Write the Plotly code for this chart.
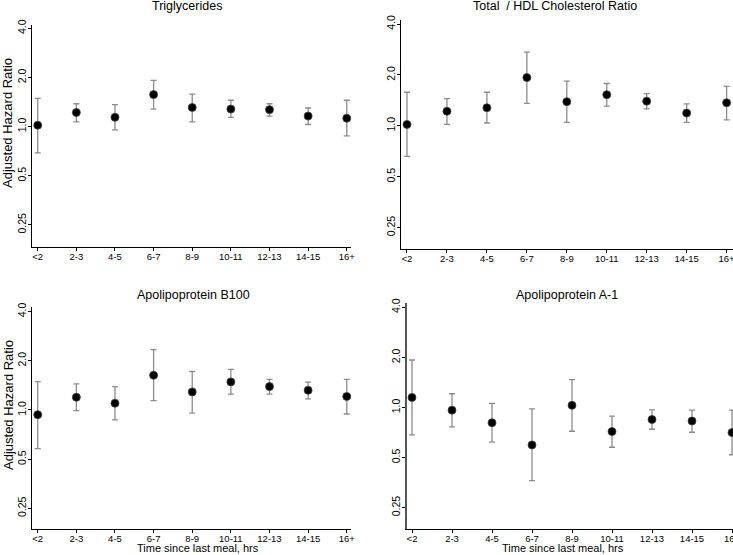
import math
import plotly.graph_objects as go

categories = ["<2", "2-3", "4-5", "6-7", "8-9", "10-11", "12-13", "14-15", "16+"]

panel_titles = ["Triglycerides", "Total  / HDL Cholesterol Ratio",
                "Apolipoprotein B100", "Apolipoprotein A-1"]

trig_hr = [1.02, 1.22, 1.14, 1.57, 1.31, 1.28, 1.27, 1.16, 1.125]
trig_hi = [1.49, 1.38, 1.365, 1.92, 1.58, 1.45, 1.38, 1.30, 1.45]
trig_lo = [0.69, 1.07, 0.954, 1.28, 1.07, 1.14, 1.16, 1.03, 0.877]

tchdl_hr = [1.02, 1.22, 1.28, 1.93, 1.39, 1.53, 1.40, 1.19, 1.37]
tchdl_hi = [1.58, 1.45, 1.58, 2.73, 1.84, 1.78, 1.55, 1.35, 1.71]
tchdl_lo = [0.66, 1.02, 1.04, 1.36, 1.05, 1.31, 1.26, 1.05, 1.085]

apob_hr = [0.936, 1.196, 1.10, 1.63, 1.29, 1.486, 1.39, 1.32, 1.21]
apob_hi = [1.49, 1.445, 1.39, 2.34, 1.72, 1.77, 1.54, 1.48, 1.54]
apob_lo = [0.58, 0.99, 0.87, 1.14, 0.958, 1.25, 1.25, 1.17, 0.945]

apoa_hr = [1.15, 0.964, 0.81, 0.596, 1.03, 0.717, 0.847, 0.83, 0.707]
apoa_hi = [1.93, 1.21, 1.06, 0.98, 1.47, 0.887, 0.968, 0.964, 0.964]
apoa_lo = [0.685, 0.765, 0.62, 0.364, 0.72, 0.577, 0.74, 0.71, 0.52]

y_tick_vals = [0.25, 0.5, 1.0, 2.0, 4.0]
y_tick_text = ["0.25", "0.5", "1.0", "2.0", "4.0"]
REF_VALUE = 1.0

y_title = "Adjusted Hazard Ratio"
x_title = "Time since last meal, hrs"

series = [(trig_hr, trig_hi, trig_lo), (tchdl_hr, tchdl_hi, tchdl_lo),
          (apob_hr, apob_hi, apob_lo), (apoa_hr, apoa_hi, apoa_lo)]

W, H = 733, 555
L2 = math.log10(2)
# per panel: x px left/right, y px top/bottom, x range, y range (log2)
panels = [
    dict(x0=32, x1=351, y0=25, y1=247, xr=[-0.148, 8.11], yr=[-2.449, 2.067]),
    dict(x0=401, x1=733, y0=20, y1=249, xr=[-0.15, 8.16], yr=[-2.418, 2.079]),
    dict(x0=32, x1=351, y0=306.7, y1=529, xr=[-0.148, 8.11], yr=[-2.42, 2.10]),
    dict(x0=407, x1=733, y0=303, y1=529, xr=[-0.125, 8.025], yr=[-2.425, 2.086]),
]

FONT = "Liberation Sans, Arial, sans-serif"
fig = go.Figure()
shapes = []
annotations = []
for i, (p, (hr, hi, lo)) in enumerate(zip(panels, series)):
    n = i + 1
    xa = "x" if n == 1 else f"x{n}"
    ya = "y" if n == 1 else f"y{n}"
    fig.add_trace(go.Scatter(
        x=categories, y=hr, mode="markers",
        marker=dict(color="black", size=8, line=dict(color="#444", width=0.8)),
        error_y=dict(type="data", symmetric=False,
                     array=[h - v for h, v in zip(hi, hr)],
                     arrayminus=[v - l for v, l in zip(hr, lo)],
                     color="#8c8c8c", thickness=1.3, width=3),
        xaxis=xa, yaxis=ya, showlegend=False, cliponaxis=False))
    xkey = "xaxis" if n == 1 else f"xaxis{n}"
    ykey = "yaxis" if n == 1 else f"yaxis{n}"
    fig.update_layout(**{
        xkey: dict(domain=[p["x0"] / W, p["x1"] / W], anchor=ya, automargin=False,
                   type="category", categoryorder="array", categoryarray=categories,
                   range=p["xr"], showline=True, linecolor="black", linewidth=1.3,
                   ticks="outside", ticklen=3, tickcolor="black", showgrid=False,
                   ticklabelstandoff=-3,
                   zeroline=False, tickfont=dict(size=9.5, color="black", family=FONT)),
        ykey: dict(domain=[1 - p["y1"] / H, 1 - p["y0"] / H], anchor=xa, automargin=False,
                   type="log", range=[p["yr"][0] * L2, p["yr"][1] * L2],
                   tickvals=y_tick_vals, ticktext=y_tick_text, tickangle=-90,
                   showline=True, linecolor="black" if n != 4 else "#555",
                   linewidth=1.3 if n != 4 else 2, ticklabelstandoff=-2,
                   ticks="outside", ticklen=3, tickcolor="black", showgrid=False,
                   zeroline=False, tickfont=dict(size=10.5, color="black", family=FONT)),
    })
    shapes.append(dict(type="line", xref=f"{xa} domain", yref=ya,
                       x0=0, x1=1, y0=math.log10(REF_VALUE), y1=math.log10(REF_VALUE),
                       line=dict(color="#777", width=1, dash="dot"), layer="below"))
    annotations.append(dict(text=panel_titles[i], xref="paper", yref="paper",
                            x=[187, 555, 193, 567][i] / W,
                            y=1 - (6 if n <= 2 else 295) / H, showarrow=False,
                            xanchor="center", yanchor="middle",
                            font=dict(size=12.5, color="black", family=FONT)))

# y axis titles on left panels
for yc in [123, 405]:
    annotations.append(dict(text=y_title, xref="paper", yref="paper", x=8 / W, y=1 - yc / H,
                            showarrow=False, textangle=-90, xanchor="center", yanchor="middle",
                            font=dict(size=13, color="black", family=FONT)))
# x axis titles on bottom panels
for xc in [198, 563]:
    annotations.append(dict(text=x_title, xref="paper", yref="paper", x=xc / W, y=1 - 548 / H,
                            showarrow=False, xanchor="center", yanchor="middle",
                            font=dict(size=11, color="black", family=FONT)))

fig.update_layout(width=W, height=H, margin=dict(l=0, r=0, t=0, b=0),
                  paper_bgcolor="white", plot_bgcolor="white",
                  shapes=shapes, annotations=annotations,
                  font=dict(family=FONT, color="black"))
fig.write_html("out.html", config={"displayModeBar": False},
               post_script="document.body.style.margin='0px';document.body.style.overflow='hidden';")
